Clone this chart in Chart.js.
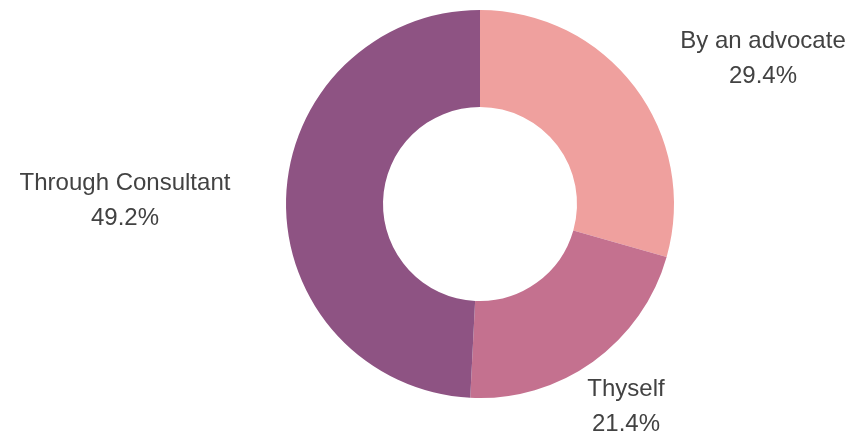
<!DOCTYPE html>
<html>
<head>
<meta charset="utf-8">
<script src="https://cdn.jsdelivr.net/npm/chart.js@4/dist/chart.umd.min.js"></script>
<style>
  html, body { margin: 0; padding: 0; background: #fff; }
  #wrap { width: 859px; height: 434px; position: relative; }
</style>
</head>
<body>
<div id="wrap"><canvas id="pieChart"></canvas></div>
<script>
// data
const categories = ['By an advocate', 'Thyself', 'Through Consultant'];
const shares = [29.4, 21.4, 49.2];
const sliceColors = ['#EFA09E', '#C4718F', '#8E5383'];

// baseline of each outside label's first line, relative to the chart centre
const labelOffsets = [[283, -156], [146, 192], [-355, -14]];

const outsideLabels = {
    id: 'outsideLabels',
    afterDraw(chart) {
        const ctx = chart.ctx;
        const arc = chart.getDatasetMeta(0).data[0];
        ctx.save();
        ctx.fillStyle = '#424242';
        ctx.font = '24px "Liberation Sans", Arial, sans-serif';
        ctx.textAlign = 'center';
        ctx.textBaseline = 'alphabetic';
        categories.forEach((name, i) => {
            const x = arc.x + labelOffsets[i][0];
            const y = arc.y + labelOffsets[i][1];
            ctx.fillText(name, x, y);
            ctx.fillText(shares[i].toFixed(1) + '%', x, y + 35);
        });
        ctx.restore();
    }
};

new Chart(document.getElementById('pieChart'), {
    type: 'doughnut',
    data: {
        labels: categories,
        datasets: [{
            data: shares,
            backgroundColor: sliceColors,
            borderWidth: 0
        }]
    },
    options: {
        responsive: true,
        maintainAspectRatio: false,
        animation: false,
        cutout: '50%',
        layout: { padding: { left: 200, right: 99, top: 10, bottom: 36 } },
        plugins: {
            legend: { display: false },
            tooltip: { enabled: false }
        }
    },
    plugins: [outsideLabels]
});
</script>
</body>
</html>
